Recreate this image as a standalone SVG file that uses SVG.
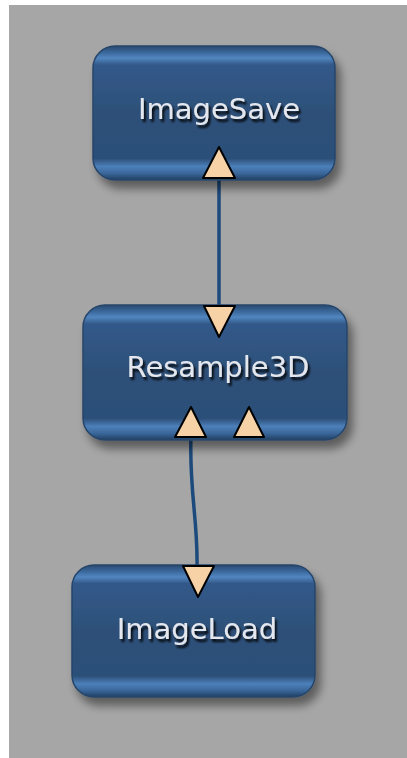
<svg xmlns="http://www.w3.org/2000/svg" width="407" height="758" viewBox="0 0 407 758">
<defs>
<linearGradient id="nodeGrad" x1="0" y1="0" x2="0" y2="1">
<stop offset="0" stop-color="#294a70"/>
<stop offset="0.05" stop-color="#3b689c"/>
<stop offset="0.09" stop-color="#5286c0"/>
<stop offset="0.14" stop-color="#33598a"/>
<stop offset="0.5" stop-color="#2d5078"/>
<stop offset="0.84" stop-color="#2c4f78"/>
<stop offset="0.9" stop-color="#4c80ba"/>
<stop offset="0.95" stop-color="#3a679a"/>
<stop offset="1" stop-color="#223f62"/>
</linearGradient>
<filter id="shadow" x="-20%" y="-20%" width="140%" height="150%">
<feGaussianBlur in="SourceAlpha" stdDeviation="5"/>
<feOffset dx="5" dy="8" result="b"/>
<feComponentTransfer><feFuncA type="linear" slope="0.45"/></feComponentTransfer>
<feMerge><feMergeNode/><feMergeNode in="SourceGraphic"/></feMerge>
</filter>
<filter id="txtShadow" x="-10%" y="-30%" width="120%" height="160%">
<feGaussianBlur in="SourceAlpha" stdDeviation="1"/>
<feOffset dx="2" dy="3"/>
<feComponentTransfer><feFuncA type="linear" slope="0.9"/></feComponentTransfer>
<feMerge><feMergeNode/><feMergeNode in="SourceGraphic"/></feMerge>
</filter>
</defs>
<style>
.node{fill:url(#nodeGrad);stroke:#26456a;stroke-width:1.5;filter:url(#shadow)}
.lbl{font-family:"DejaVu Sans","Liberation Sans",sans-serif;font-size:29px;fill:#e4e8ee;text-anchor:middle;filter:url(#txtShadow)}
.port{fill:#f6d2a6;stroke:#000;stroke-width:2;stroke-linejoin:round}
.edge{fill:none;stroke:#1d4a7c;stroke-width:3.5}
</style>
<rect x="0" y="0" width="407" height="758" fill="#ffffff"/>
<rect x="9" y="5" width="398" height="753" fill="#a6a6a6"/>
<g id="connectors">
<path class="edge" d="M219,178 L219,307"/>
<path class="edge" d="M191,436 C189,490 198,520 197,567"/>
</g>
<g id="ImageSave">
<rect class="node" x="93" y="46" width="242" height="134" rx="22"/>
<text class="lbl" x="219" y="119">ImageSave</text>
<polygon class="port" points="219,147 235,178 203,178"/>
</g>
<g id="Resample3D">
<rect class="node" x="83" y="305" width="264" height="135" rx="22"/>
<text class="lbl" x="218" y="377">Resample3D</text>
<polygon class="port" points="204,306 235,306 219,337"/>
<polygon class="port" points="191,407 206,437 175,437"/>
<polygon class="port" points="249,407 264,437 234,437"/>
</g>
<g id="ImageLoad">
<rect class="node" x="72" y="565" width="243" height="132" rx="22"/>
<text class="lbl" x="197" y="639">ImageLoad</text>
<polygon class="port" points="183,566 214,566 198,597"/>
</g>
</svg>
